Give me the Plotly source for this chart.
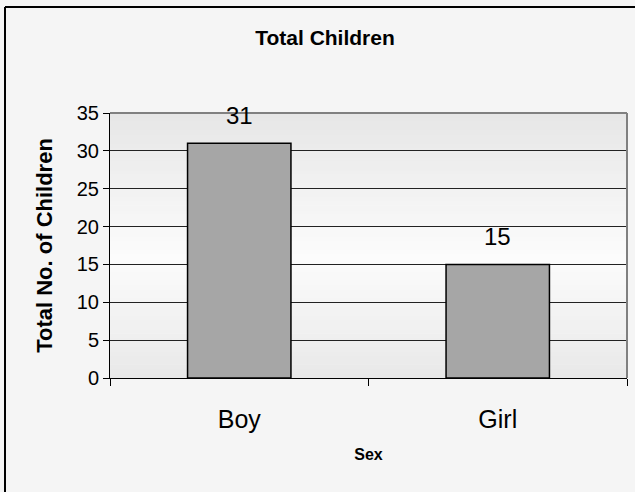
import plotly.graph_objects as go

categories = ["Boy", "Girl"]
children = [31, 15]
y_ticks = [0, 5, 10, 15, 20, 25, 30, 35]

W, H = 635, 492
L, R, T, B = 110, 8, 113, 114
FONT = "Arial, Liberation Sans, sans-serif"

fig = go.Figure(go.Bar(
    x=categories, y=children, width=0.4,
    marker=dict(color="#a6a6a6", line=dict(color="#000000", width=1.5)),
    hoverinfo="skip",
))

# value labels above bars
for c, v in zip(categories, children):
    fig.add_annotation(x=c, y=v, text=str(v), showarrow=False, yanchor="bottom",
                       yshift=12, font=dict(family=FONT, size=24, color="#000"))

# gradient plot background (darker top/bottom, light middle)
shapes = []
n = 60
for i in range(n):
    f = (i + 0.5) / n
    if f < 0.45:
        g = 0xe8 + (0xfc - 0xe8) * f / 0.45
    else:
        g = 0xfc - (0xfc - 0xe6) * (f - 0.45) / 0.55
    g = int(round(g))
    col = "#%02x%02x%02x" % (g, g, g)
    shapes.append(dict(type="rect", xref="x domain", yref="y domain",
                       x0=0, x1=1, y0=i / n, y1=(i + 1) / n + 0.002,
                       fillcolor=col, line=dict(width=0), layer="below"))

# plot area border (top/right gray)
shapes.append(dict(type="line", xref="x domain", yref="y domain", x0=0, x1=1, y0=1, y1=1,
                   line=dict(color="#808080", width=2)))
shapes.append(dict(type="line", xref="x domain", yref="y domain", x0=1, x1=1, y0=0, y1=1,
                   line=dict(color="#808080", width=2)))

# outer chart border (left/top only visible)
pw, ph = W - L - R, H - T - B
px = lambda p: (p - L) / pw
py = lambda p: (H - B - p) / ph
shapes.append(dict(type="line", xref="paper", yref="paper", x0=px(5), x1=px(640),
                   y0=py(7), y1=py(7), line=dict(color="#000", width=2)))
shapes.append(dict(type="line", xref="paper", yref="paper", x0=px(5), x1=px(5),
                   y0=py(7), y1=py(500), line=dict(color="#000", width=2)))

fig.update_layout(
    width=W, height=H,
    margin=dict(l=L, r=R, t=T, b=B),
    paper_bgcolor="#f5f5f5",
    plot_bgcolor="rgba(0,0,0,0)",
    showlegend=False,
    font=dict(family=FONT, color="#000"),
    shapes=shapes,
    title=dict(text="<b>Total Children</b>", x=325 / W, xanchor="center",
               y=1 - 38 / H, yanchor="middle", font=dict(size=21, color="#000")),
    xaxis=dict(
        type="category", showgrid=False, showline=True, linecolor="#000", linewidth=1,
        ticks="outside", tickson="boundaries", ticklen=7, tickcolor="#000",
        tickfont=dict(size=25), ticklabelstandoff=19,
        title=dict(text="<b>Sex</b>", font=dict(size=16), standoff=16),
    ),
    yaxis=dict(
        range=[0, 35], tickvals=y_ticks, showgrid=True, gridcolor="#222222", gridwidth=1,
        showline=True, linecolor="#000", linewidth=1, zeroline=False,
        ticks="outside", ticklen=6, tickcolor="#000", tickfont=dict(size=20),
        title=dict(text="<b>Total No. of Children</b>", font=dict(size=22), standoff=18),
    ),
)

fig.write_html("out.html", config={"displayModeBar": False},
               post_script="document.body.style.margin='0';"
               "document.body.style.background='#f5f5f5';")
